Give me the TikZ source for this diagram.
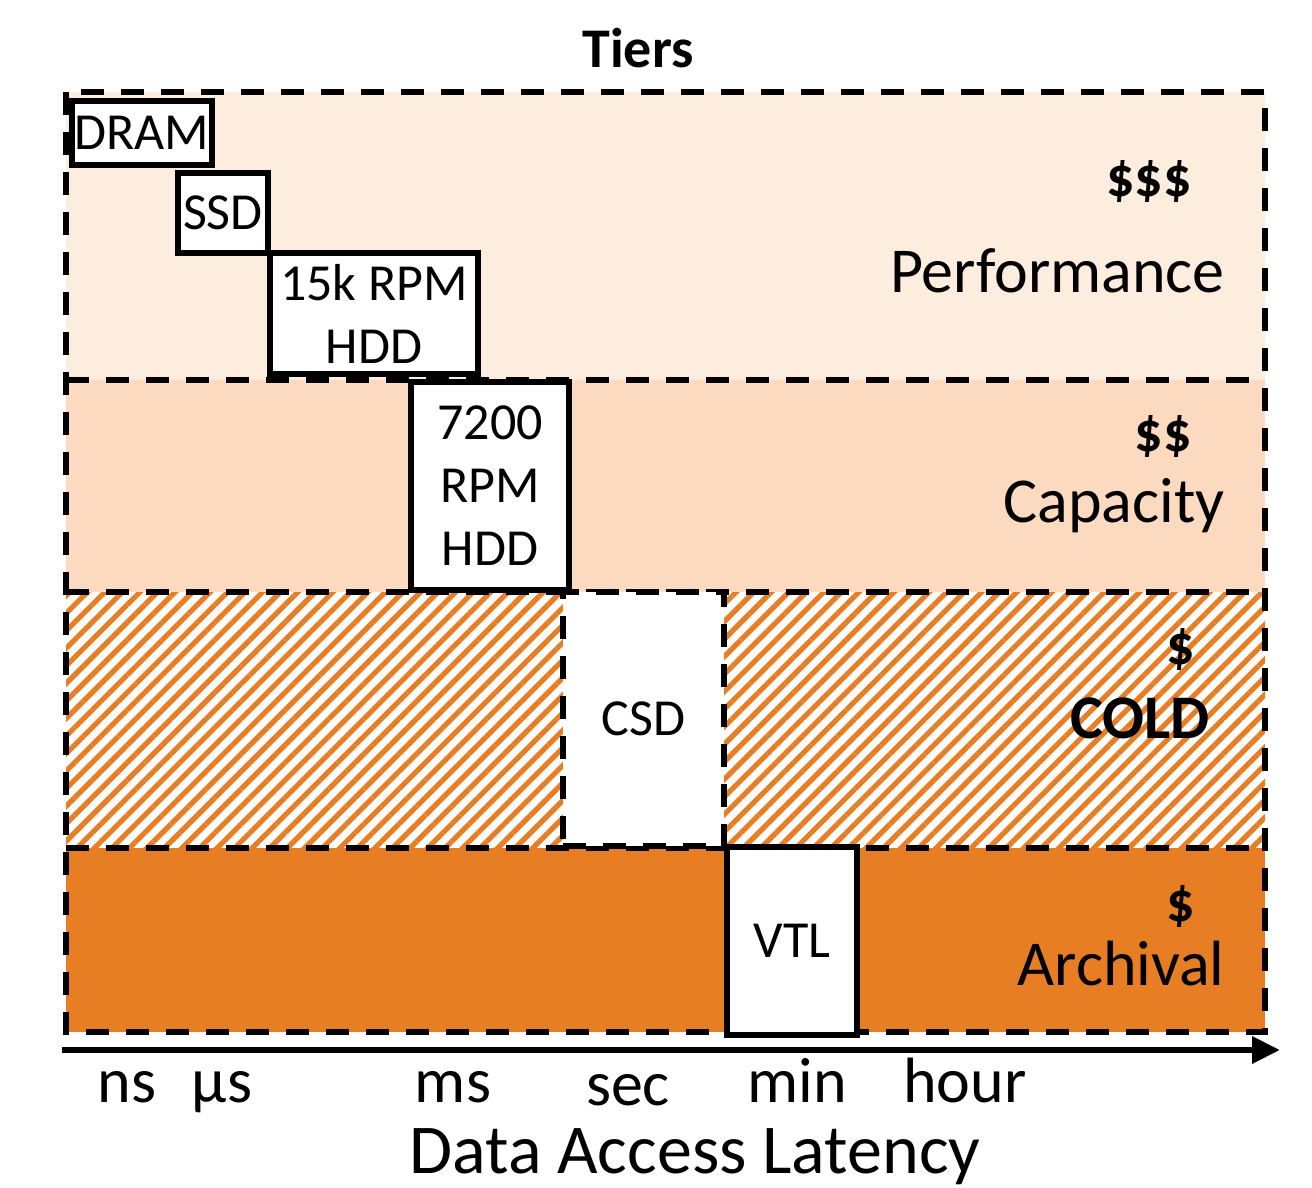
\documentclass[tikz,border=0pt]{standalone}
\usepackage{fontspec}
\setmainfont{Carlito}
\usetikzlibrary{positioning, arrows.meta, patterns.meta}

\definecolor{perfcolor}{RGB}{253,237,223}
\definecolor{capacolor}{RGB}{251,218,191}
\definecolor{archcolor}{RGB}{232,126,35}

\tikzset{
  devbox/.style={draw, fill=white, line width=2.6pt, inner sep=0pt, align=center,
    font=\fontsize{26}{31.5}\selectfont},
  coldbox/.style={devbox, line width=3pt, dash pattern=on 11.5pt off 8.5pt},
  tierline/.style={line width=3pt, dash pattern=on 11.5pt off 8.5pt},
  tiertext/.style={anchor=base east, inner sep=0pt, font=\fontsize{32}{36}\selectfont},
  costtext/.style={anchor=base east, inner sep=0pt, font=\fontsize{28}{32}\selectfont\bfseries},
  unittext/.style={anchor=base, inner sep=0pt, font=\fontsize{32}{36}\selectfont},
}

\begin{document}
\begin{tikzpicture}[x=0.5pt, y=-0.5pt]
  \useasboundingbox (0,0) rectangle (1312,1188);

  \fill[perfcolor] (66,92) rectangle (1265,380);
  \fill[capacolor] (66,380) rectangle (1265,592);
  \fill[pattern={Lines[angle=45,distance=6.2pt,line width=2.6pt]}, pattern color=archcolor]
    (66,592) rectangle (1265,848);
  \fill[archcolor] (66,848) rectangle (1265,1032);

  \draw[tierline] (66,92) rectangle (1265,1032);
  \draw[tierline] (66,380) -- (1265,380);
  \draw[tierline] (66,592) -- (1265,592);
  \draw[tierline] (66,848) -- (1265,848);

  \node[anchor=base, font=\fontsize{28}{32}\selectfont\bfseries] (title) at (638,68) {Tiers};

  \node[devbox, minimum width=70pt, minimum height=32pt] (dram) at (142,133) {DRAM};
  \node[devbox, minimum width=45pt, minimum height=40pt] (ssd) at (223,213) {SSD};
  \node[devbox, minimum width=104pt, minimum height=60.5pt] (hddfast) at (374,313.5) {15k RPM\\HDD};
  \node[devbox, minimum width=79pt, minimum height=104pt] (hddslow) at (490,486) {7200\\RPM\\HDD};
  \node[coldbox, minimum width=80.5pt, minimum height=127pt] (csd) at (643.5,719) {CSD};
  \node[devbox, minimum width=65pt, minimum height=94pt] (vtl) at (792,941) {VTL};

  \node[costtext] (costperf) at (1192,196) {\$\$\$};
  \node[tiertext] (perf) at (1225,292) {Performance};
  \node[costtext] (costcapa) at (1192,451) {\$\$};
  \node[tiertext] (capa) at (1225,522) {Capacity};
  \node[costtext] (costcold) at (1195,664) {\$};
  \node[tiertext, font=\fontsize{31}{36}\selectfont\bfseries] (cold) at (1210,738) {COLD};
  \node[costtext] (costarch) at (1195,921) {\$};
  \node[tiertext] (arch) at (1225,985) {Archival};

  \coordinate (axstart) at (62,1050);
  \coordinate (axend) at (1280,1050);
  \draw[line width=3.2pt, -{Triangle[length=14pt, width=13pt]}] (axstart) -- (axend);

  \node[unittext] (ns) at (127,1102) {ns};
  \node[unittext] (us) at (222,1102) {µs};
  \node[unittext] (ms) at (453,1102) {ms};
  \node[unittext] (sec) at (628,1105) {sec};
  \node[unittext] (min) at (797,1102) {min};
  \node[unittext] (hour) at (965,1102) {hour};
  \node[anchor=base, font=\fontsize{35}{40}\selectfont] (axlabel) at (695,1173) {Data Access Latency};
\end{tikzpicture}
\end{document}
